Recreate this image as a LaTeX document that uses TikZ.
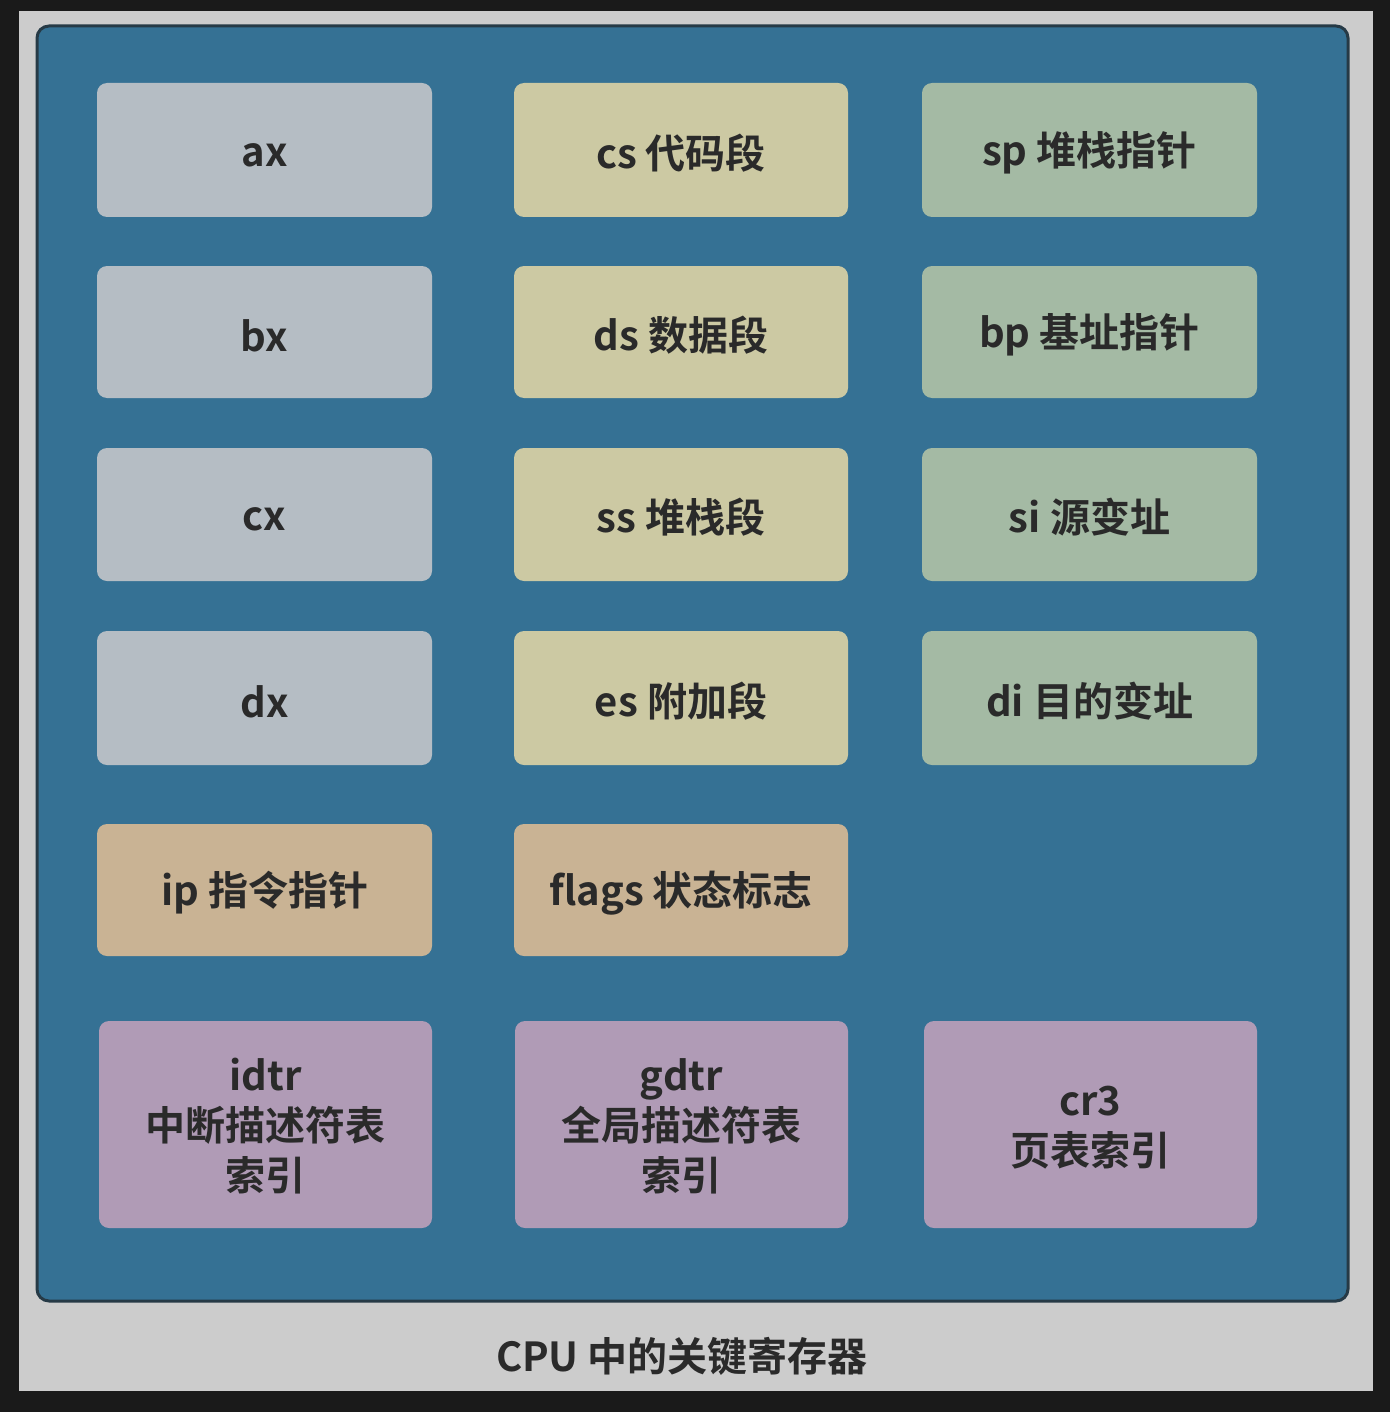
\documentclass[tikz,border=0pt]{standalone}
\usepackage{fontspec}
\newfontfamily\cjk{Noto Sans CJK SC}[BoldFont={* Bold}]
\definecolor{outerbg}{HTML}{1A1A1A}
\definecolor{panelbg}{HTML}{CCCCCC}
\definecolor{cpublue}{HTML}{357194}
\definecolor{cpuedge}{HTML}{263A46}
\definecolor{gpr}{HTML}{B5BDC4}
\definecolor{seg}{HTML}{CCC9A3}
\definecolor{ptr}{HTML}{A4BAA4}
\definecolor{ctl}{HTML}{C9B394}
\definecolor{sys}{HTML}{B09BB6}
\definecolor{txt}{HTML}{2A2A2A}
\newcommand{\lowerby}[2]{\raisebox{-#1}[\height][\depth]{#2}}
\newcommand{\stacklines}[1]{\lowerby{3pt}{\begin{tabular}{@{}c@{}}#1\end{tabular}}}
\begin{document}
\begin{tikzpicture}[x=0.5pt,y=-0.5pt,
  reg/.style={rounded corners=5pt, inner sep=0pt, minimum width=167.5pt, minimum height=67pt,
    text=txt, align=center, font=\cjk\bfseries\fontsize{20}{25}\selectfont},
  sysreg/.style={reg, fill=sys, minimum width=166.5pt, minimum height=103.5pt}]
\useasboundingbox (0,0) rectangle (1390,1412);
\fill[outerbg] (0,0) rectangle (1390,1412);
\fill[panelbg] (19,11) rectangle (1373,1391);
\draw[cpuedge, line width=1.5pt, fill=cpublue, rounded corners=6pt] (37,26) rectangle (1348,1301);
% column 1
\node[reg, fill=gpr] (ax) at (264.5,150) {\lowerby{2.5pt}{ax}};
\node[reg, fill=gpr, minimum height=66pt] (bx) at (264.5,332) {\lowerby{2pt}{bx}};
\node[reg, fill=gpr, minimum height=66.5pt] (cx) at (264.5,514.5) {\lowerby{2.5pt}{cx}};
\node[reg, fill=gpr] (dx) at (264.5,698) {\lowerby{2pt}{dx}};
\node[reg, fill=ctl, minimum height=66pt] (ip) at (264.5,890) {\lowerby{1.5pt}{ip 指令指针}};
% column 2
\node[reg, fill=seg, minimum width=167pt] (cs) at (681,150) {\lowerby{1.5pt}{cs 代码段}};
\node[reg, fill=seg, minimum width=167pt, minimum height=66pt] (ds) at (681,332) {\lowerby{1.5pt}{ds 数据段}};
\node[reg, fill=seg, minimum width=167pt, minimum height=66.5pt] (ss) at (681,514.5) {\lowerby{1.5pt}{ss 堆栈段}};
\node[reg, fill=seg, minimum width=167pt] (es) at (681,698) {\lowerby{1.5pt}{es 附加段}};
\node[reg, fill=ctl, minimum width=167pt, minimum height=66pt] (flags) at (681,890) {\lowerby{1.5pt}{flags 状态标志}};
% column 3
\node[reg, fill=ptr] (sp) at (1089.5,150) {\lowerby{1.5pt}{sp 堆栈指针}};
\node[reg, fill=ptr, minimum height=66pt] (bp) at (1089.5,332) {\lowerby{1.5pt}{bp 基址指针}};
\node[reg, fill=ptr, minimum height=66.5pt] (si) at (1089.5,514.5) {\lowerby{1.5pt}{si 源变址}};
\node[reg, fill=ptr] (di) at (1089.5,698) {\lowerby{1.5pt}{di 目的变址}};
% system registers
\node[sysreg] (idtr) at (265.5,1124.5) {\stacklines{idtr\\中断描述符表\\索引}};
\node[sysreg] (gdtr) at (681.5,1124.5) {\stacklines{gdtr\\全局描述符表\\索引}};
\node[sysreg] (cr3) at (1090.5,1124.5) {\stacklines{cr3\\页表索引}};
% caption
\node[text=txt, font=\cjk\bfseries\fontsize{20}{25}\selectfont] (title) at (682,1356) {CPU 中的关键寄存器};
\end{tikzpicture}
\end{document}
